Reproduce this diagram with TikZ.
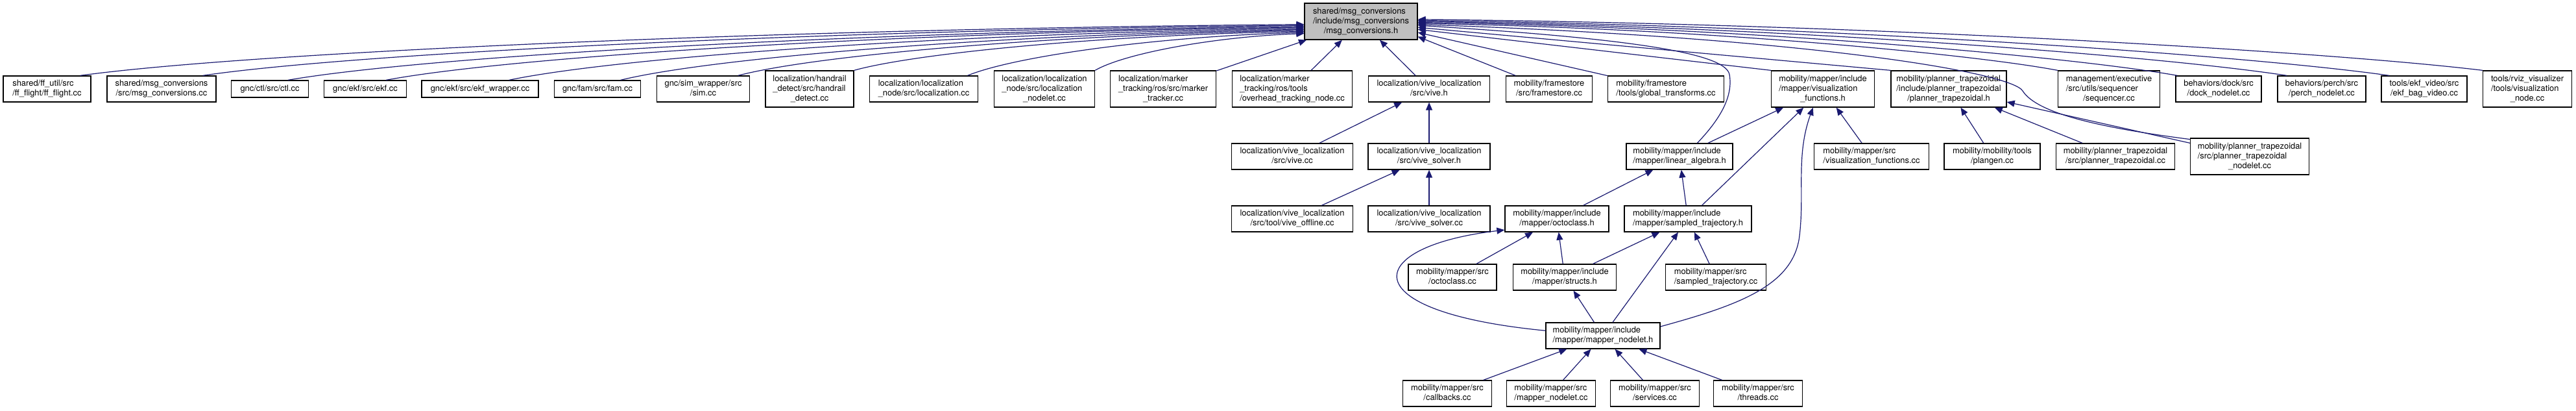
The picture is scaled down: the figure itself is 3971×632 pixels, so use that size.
\documentclass[tikz,border=0pt]{standalone}
\usepackage{fontspec}
\setmainfont{TeX Gyre Heros}
\usepackage{tikz}
\usetikzlibrary{arrows.meta}
\definecolor{edgeblue}{HTML}{191970}
\definecolor{curgray}{HTML}{BFBFBF}
\newcommand{\dotfont}{\fontsize{12.9pt}{15pt}\selectfont}
\newcommand{\flabel}[2]{\begin{tabular}{@{}l@{}}#1\\\multicolumn{1}{@{}c@{}}{#2}\end{tabular}}
\begin{document}
\begin{tikzpicture}[
  x=1pt, y=1pt,
  fnode/.style={draw=black, fill=white, line width=1.3pt, inner sep=0pt, font=\dotfont},
  l1/.style={minimum height=26pt},
  l2/.style={minimum height=40pt},
  l3/.style={minimum height=56pt},
  dep/.style={draw=edgeblue, line width=1.2pt, -{Triangle[length=12pt, width=10pt]}}
]
  \useasboundingbox (0,0) rectangle (3971,-632);
  \node[fnode, l3, minimum width=174pt, fill=curgray] (root) at (2098,-33) {\flabel{shared/msg\_conversions\\/include/msg\_conversions}{/msg\_conversions.h}};

  \node[fnode, l2, minimum width=135pt] (ff) at (72.5,-137) {\flabel{shared/ff\_util/src}{/ff\_flight/ff\_flight.cc}};
  \node[fnode, l2, minimum width=168pt] (msgcc) at (249,-137) {\flabel{shared/msg\_conversions}{/src/msg\_conversions.cc}};
  \node[fnode, l1, minimum width=119pt] (ctl) at (416,-137) {gnc/ctl/src/ctl.cc};
  \node[fnode, l1, minimum width=127pt] (ekf) at (563,-137) {gnc/ekf/src/ekf.cc};
  \node[fnode, l1, minimum width=180pt] (ekfw) at (740,-137) {gnc/ekf/src/ekf\_wrapper.cc};
  \node[fnode, l1, minimum width=133pt] (fam) at (921,-137) {gnc/fam/src/fam.cc};
  \node[fnode, l2, minimum width=143pt] (sim) at (1084,-137) {\flabel{gnc/sim\_wrapper/src}{/sim.cc}};
  \node[fnode, l3, minimum width=136pt] (handrail) at (1248,-137) {\flabel{localization/handrail\\\_detect/src/handrail}{\_detect.cc}};
  \node[fnode, l2, minimum width=167pt] (loc) at (1424,-137) {\flabel{localization/localization}{\_node/src/localization.cc}};
  \node[fnode, l3, minimum width=155pt] (locnl) at (1610,-137) {\flabel{localization/localization\\\_node/src/localization}{\_nodelet.cc}};
  \node[fnode, l3, minimum width=163pt] (marker) at (1793,-137) {\flabel{localization/marker\\\_tracking/ros/src/marker}{\_tracker.cc}};
  \node[fnode, l3, minimum width=185pt] (overhead) at (1992,-137) {\flabel{localization/marker\\\_tracking/ros/tools}{/overhead\_tracking\_node.cc}};
  \node[fnode, l2, minimum width=187pt] (viveh) at (2203,-137) {\flabel{localization/vive\_localization}{/src/vive.h}};
  \node[fnode, l2, minimum width=133pt] (fs) at (2388,-137) {\flabel{mobility/framestore}{/src/framestore.cc}};
  \node[fnode, l2, minimum width=179pt] (gtf) at (2568,-137) {\flabel{mobility/framestore}{/tools/global\_transforms.cc}};
  \node[fnode, l3, minimum width=159pt] (visfn) at (2810,-137) {\flabel{mobility/mapper/include\\/mapper/visualization}{\_functions.h}};
  \node[fnode, l3, minimum width=178pt] (ptrap) at (3004,-137) {\flabel{mobility/planner\_trapezoidal\\/include/planner\_trapezoidal}{/planner\_trapezoidal.h}};
  \node[fnode, l3, minimum width=157pt] (seq) at (3251,-137) {\flabel{management/executive\\/src/utils/sequencer}{/sequencer.cc}};
  \node[fnode, l2, minimum width=132pt] (dock) at (3420,-137) {\flabel{behaviors/dock/src}{/dock\_nodelet.cc}};
  \node[fnode, l2, minimum width=136pt] (perch) at (3579,-137) {\flabel{behaviors/perch/src}{/perch\_nodelet.cc}};
  \node[fnode, l2, minimum width=132pt] (ekfvid) at (3737,-137) {\flabel{tools/ekf\_video/src}{/ekf\_bag\_video.cc}};
  \node[fnode, l3, minimum width=137pt] (viznode) at (3896,-137) {\flabel{tools/rviz\_visualizer\\/tools/visualization}{\_node.cc}};

  \node[fnode, l2, minimum width=187pt] (vivecc) at (1992,-241) {\flabel{localization/vive\_localization}{/src/vive.cc}};
  \node[fnode, l2, minimum width=188pt] (vsolvh) at (2203,-241) {\flabel{localization/vive\_localization}{/src/vive\_solver.h}};
  \node[fnode, l2, minimum width=164pt] (linalg) at (2589,-241) {\flabel{mobility/mapper/include}{/mapper/linear\_algebra.h}};
  \node[fnode, l2, minimum width=177pt] (visfncc) at (2885,-241) {\flabel{mobility/mapper/src}{/visualization\_functions.cc}};
  \node[fnode, l2, minimum width=148pt] (plangen) at (3071,-241) {\flabel{mobility/mobility/tools}{/plangen.cc}};
  \node[fnode, l2, minimum width=183pt] (ptrapcc) at (3261,-241) {\flabel{mobility/planner\_trapezoidal}{/src/planner\_trapezoidal.cc}};
  \node[fnode, l3, minimum width=183pt] (ptrapnl) at (3468,-241) {\flabel{mobility/planner\_trapezoidal\\/src/planner\_trapezoidal}{\_nodelet.cc}};

  \node[fnode, l2, minimum width=187pt] (offline) at (1992,-337) {\flabel{localization/vive\_localization}{/src/tool/vive\_offline.cc}};
  \node[fnode, l2, minimum width=188pt] (vsolvcc) at (2203,-337) {\flabel{localization/vive\_localization}{/src/vive\_solver.cc}};
  \node[fnode, l2, minimum width=160pt] (octoh) at (2400,-337) {\flabel{mobility/mapper/include}{/mapper/octoclass.h}};
  \node[fnode, l2, minimum width=196pt] (samph) at (2602,-337) {\flabel{mobility/mapper/include}{/mapper/sampled\_trajectory.h}};

  \node[fnode, l2, minimum width=136pt] (octocc) at (2239,-427) {\flabel{mobility/mapper/src}{/octoclass.cc}};
  \node[fnode, l2, minimum width=159pt] (structs) at (2412,-427) {\flabel{mobility/mapper/include}{/mapper/structs.h}};
  \node[fnode, l2, minimum width=155pt] (sampcc) at (2645,-427) {\flabel{mobility/mapper/src}{/sampled\_trajectory.cc}};

  \node[fnode, l2, minimum width=176pt] (mnh) at (2471,-517) {\flabel{mobility/mapper/include}{/mapper/mapper\_nodelet.h}};

  \node[fnode, l2, minimum width=137pt] (cb) at (2231,-606) {\flabel{mobility/mapper/src}{/callbacks.cc}};
  \node[fnode, l2, minimum width=137pt] (mncc) at (2391,-606) {\flabel{mobility/mapper/src}{/mapper\_nodelet.cc}};
  \node[fnode, l2, minimum width=137pt] (svc) at (2551,-606) {\flabel{mobility/mapper/src}{/services.cc}};
  \node[fnode, l2, minimum width=137pt] (thr) at (2710,-606) {\flabel{mobility/mapper/src}{/threads.cc}};

  \draw[dep] (ff.22) .. controls +(264,36) and +(-812,-7) .. (root.183);
  \draw[dep] (msgcc.18) .. controls +(238,35) and +(-731,-7) .. (root.184);
  \draw[dep] (ctl.26) .. controls +(220,38) and +(-674,-8) .. (root.185);
  \draw[dep] (ekf.23) .. controls +(198,37) and +(-609,-7) .. (root.186);
  \draw[dep] (ekfw.17) .. controls +(172,36) and +(-528,-7) .. (root.187);
  \draw[dep] (fam.21) .. controls +(148,36) and +(-454,-7) .. (root.188);
  \draw[dep] (sim.21) .. controls +(122,32) and +(-376,-6) .. (root.189);
  \draw[dep] (handrail.north east) .. controls +(97,27) and +(-299,-5) .. (root.190);
  \draw[dep] (loc.17) .. controls +(73,30) and +(-224,-6) .. (root.191);
  \draw[dep] (locnl.north east) .. controls +(45,26) and +(-139,-5) .. (root.192);
  \draw[dep] (marker) -- (root);
  \draw[dep] (overhead) -- (root);
  \draw[dep] (viveh) -- (root);
  \draw[dep] (fs) -- (root.345);
  \draw[dep] (gtf) -- (root.349);
  \draw[dep] (visfn.north west) -- (root.352);
  \draw[dep] (ptrap.north west) -- (root.354);
  \draw[dep] (linalg.37) .. controls (2650,-185) and (2672,-150) .. (2666,-115) .. controls (2661,-87) and (2560,-62) .. (root.356);
  \draw[dep] (ptrapnl.164) .. controls (3240,-197) and (3140,-175) .. (3118,-140) .. controls (3100,-111) and (2785,-58) .. (root.357);
  \draw[dep] (seq.north west) .. controls +(-138,26) and +(425,-7) .. (root.358);
  \draw[dep] (dock.162) .. controls +(-164,29) and +(505,-7) .. (root.359);
  \draw[dep] (perch.159) .. controls +(-188,29) and +(577,-8) .. (root.0);
  \draw[dep] (ekfvid.159) .. controls +(-210,30) and +(645,-8) .. (root.1);
  \draw[dep] (viznode.north west) .. controls +(-230,28) and +(706,-7) .. (root.2);

  \draw[dep] (vivecc) -- (viveh);
  \draw[dep] (vsolvh) -- (viveh);
  \draw[dep] (offline) -- (vsolvh);
  \draw[dep] (vsolvcc) -- (vsolvh);
  \draw[dep] (linalg) -- (visfn);
  \draw[dep] (samph) -- (visfn);
  \draw[dep] (visfncc) -- (visfn);
  \draw[dep] (mnh.9) .. controls (2680,-470) and (2765,-440) .. (2774,-363) .. controls (2782,-295) and (2768,-240) .. (visfn.242);
  \draw[dep] (plangen) -- (ptrap);
  \draw[dep] (ptrapcc) -- (ptrap);
  \draw[dep] (ptrapnl) -- (ptrap);
  \draw[dep] (octoh) -- (linalg);
  \draw[dep] (samph) -- (linalg);
  \draw[dep] (octocc) -- (octoh);
  \draw[dep] (structs) -- (octoh);
  \draw[dep] (mnh.175) .. controls (2080,-480) and (2100,-380) .. (octoh.192);
  \draw[dep] (structs) -- (samph);
  \draw[dep] (mnh) -- (samph);
  \draw[dep] (sampcc) -- (samph);
  \draw[dep] (mnh) -- (structs);
  \draw[dep] (cb) -- (mnh);
  \draw[dep] (mncc) -- (mnh);
  \draw[dep] (svc) -- (mnh);
  \draw[dep] (thr) -- (mnh);
\end{tikzpicture}
\end{document}
